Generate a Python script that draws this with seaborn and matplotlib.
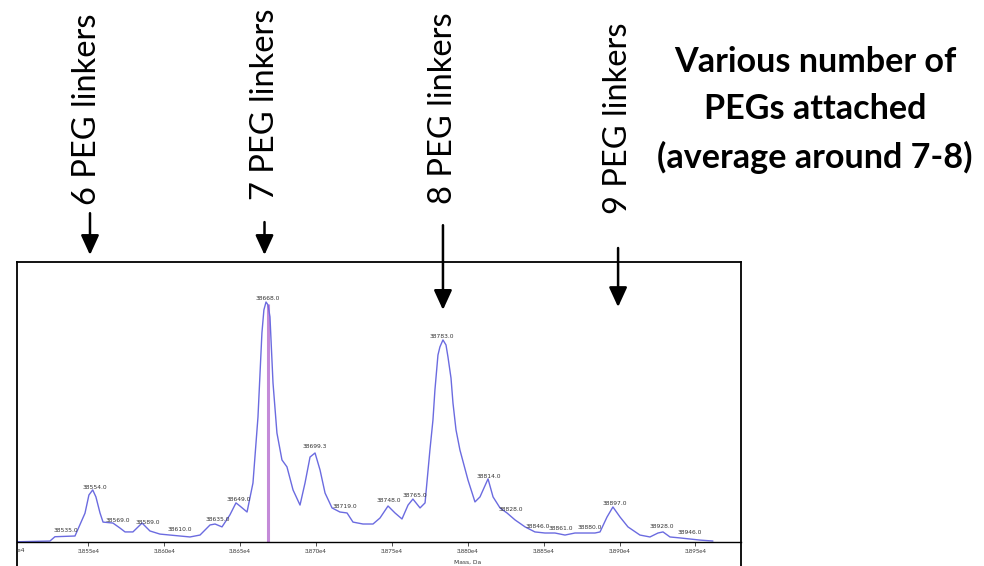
import numpy as np
import matplotlib
matplotlib.use("Agg")
import matplotlib.pyplot as plt
import matplotlib.ticker as mticker
import seaborn as sns

sns.set_theme(style="white")
plt.rcParams['font.family'] = ['Lato', 'DejaVu Sans']

# spectrum (mass in Da, relative intensity %)
mass_da = [38502.9, 38524.6, 38527.9, 38541.1, 38547.7, 38550.3, 38552.8, 38554.9, 38557.6,
           38559.6, 38566.1, 38570.8, 38574.1, 38579.3, 38585.3, 38590.5, 38597.1, 38603.7,
           38610.3, 38616.9, 38623.5, 38630.1, 38633.4, 38638.0, 38643.2, 38647.2, 38649.8,
           38654.5, 38658.4, 38661.7, 38664.3, 38665.6, 38667.0, 38668.3, 38669.6, 38671.6,
           38674.2, 38677.5, 38680.8, 38684.8, 38689.4, 38692.7, 38696.0, 38699.3, 38702.6,
           38705.9, 38710.5, 38715.7, 38720.4, 38724.3, 38730.9, 38737.5, 38742.1, 38747.4,
           38752.0, 38756.6, 38760.6, 38763.8, 38768.5, 38771.8, 38775.0, 38777.0, 38778.3,
           38780.3, 38781.6, 38783.6, 38785.6, 38786.9, 38788.9, 38790.2, 38792.2, 38794.8,
           38800.1, 38804.7, 38808.0, 38813.3, 38816.6, 38821.2, 38825.8, 38831.1, 38837.7,
           38844.2, 38850.8, 38857.4, 38864.0, 38870.6, 38877.2, 38883.8, 38887.1, 38891.7,
           38895.6, 38900.3, 38905.5, 38913.4, 38920.0, 38925.3, 38928.6, 38933.2, 38939.8,
           38946.4, 38953.0, 38961.5]
intensity = [0.1, 0.4, 2.2, 2.5, 12.0, 19.6, 21.7, 18.8, 12.1,
             8.3, 7.9, 5.8, 4.2, 4.2, 7.9, 4.6, 3.3, 2.9,
             2.5, 2.1, 2.9, 7.1, 7.5, 6.3, 11.3, 16.3, 15.0,
             12.5, 24.6, 52.1, 87.1, 96.7, 100.0, 98.8, 93.8, 66.3,
             45.4, 34.2, 31.3, 21.7, 15.4, 24.6, 35.4, 37.1, 30.0,
             20.4, 14.2, 12.5, 12.1, 8.3, 7.5, 7.5, 10.0, 15.0,
             12.1, 9.6, 15.4, 17.9, 14.2, 16.3, 38.3, 50.8, 63.3,
             77.9, 81.3, 84.2, 82.1, 77.1, 68.3, 57.9, 46.7, 38.3,
             25.8, 16.7, 18.8, 26.3, 18.8, 14.2, 12.1, 9.2, 6.3,
             4.2, 3.75, 3.75, 2.9, 3.75, 3.75, 3.75, 4.2, 10.4,
             14.6, 10.4, 6.3, 2.9, 2.1, 3.75, 4.2, 2.1, 1.7,
             1.25, 0.8, 0.4]

peak_labels = [38535.0, 38554.0, 38569.0, 38589.0, 38610.0, 38635.0, 38649.0, 38668.0,
               38699.3, 38719.0, 38748.0, 38765.0, 38783.0, 38814.0, 38828.0, 38846.0,
               38861.0, 38880.0, 38897.0, 38928.0, 38946.0]
marked_peak = 38668.0

linker_text = ["6 PEG linkers", "7 PEG linkers", "8 PEG linkers", "9 PEG linkers"]
note_text = "Various number of\nPEGs attached\n(average around 7-8)"

fig = plt.figure(figsize=(9.84, 5.66), dpi=100)
ax = fig.add_axes([17 / 984, 1 - 580 / 566, 724 / 984, 318 / 566])

sns.lineplot(x=mass_da, y=intensity, ax=ax, color="#6b6be0", lw=1.0, estimator=None)
ax.vlines(marked_peak, 0, np.interp(marked_peak, mass_da, intensity),
          color="#c48ad8", lw=2.2, zorder=1)

for m in peak_labels:
    h = np.interp(m, mass_da, intensity)
    ax.annotate(f"{m:.1f}", xy=(m, h), xytext=(0, 2.5), textcoords="offset points",
                ha="center", va="bottom", fontsize=4.3, color="#333333",
                family="DejaVu Sans")

ax.set_xlim(38502.9, 38980.0)
ax.set_ylim(-15.83, 116.67)
ax.set_yticks([])
ax.set_xticks(np.arange(38550, 38951, 50))
ax.xaxis.set_major_formatter(mticker.FuncFormatter(lambda v, p: f"{v / 1e4:.3f}e4"))
ax.tick_params(axis="x", direction="out", length=3, width=0.6, labelsize=4.3,
               pad=2, colors="#333333", bottom=True)
for lab in ax.get_xticklabels():
    lab.set_family("DejaVu Sans")
ax.set_xlabel("Mass, Da", fontsize=4.3, color="#333333", family="DejaVu Sans")
ax.xaxis.set_label_coords(0.623, 0.065)

for s in ["left", "right", "top"]:
    ax.spines[s].set_visible(True)
    ax.spines[s].set_color("black")
    ax.spines[s].set_linewidth(1.3)
ax.spines["bottom"].set_position(("data", 0))
ax.spines["bottom"].set_color("black")
ax.spines["bottom"].set_linewidth(1.0)

# partial first tick label cut by the frame
t = ax.annotate("3.850e4", xy=(38500, 0), xytext=(0, -4.5), textcoords="offset points",
                ha="center", va="top", fontsize=4.3, color="#333333",
                family="DejaVu Sans", annotation_clip=False)
t.set_clip_box(ax.bbox)
t.set_clip_on(True)

# linker annotations above the spectrum
arrow_cfg = [(38551, 137, 119.6), (38666, 133.3, 119.6), (38783.6, 132, 96.7), (38899, 122.5, 97.9)]
text_pos = [(87, 109), (265, 104), (443, 108), (618, 118)]
for (m, y0, y1), (tx, ty), s in zip(arrow_cfg, text_pos, linker_text):
    ax.annotate("", xy=(m, y1), xytext=(m, y0), annotation_clip=False,
                arrowprops=dict(arrowstyle="-|>,head_length=1.2,head_width=0.55",
                                mutation_scale=10, lw=1.8, color="black",
                                shrinkA=0, shrinkB=0))
    fig.text(tx / 984, 1 - ty / 566, s, rotation=90, ha="center", va="center",
             fontsize=23.5, color="black")

fig.text(815 / 984, 1 - 110 / 566, note_text, ha="center", va="center",
         fontsize=24.6, fontweight="bold", linespacing=1.6, color="black")

fig.savefig("out.png", dpi=100)
